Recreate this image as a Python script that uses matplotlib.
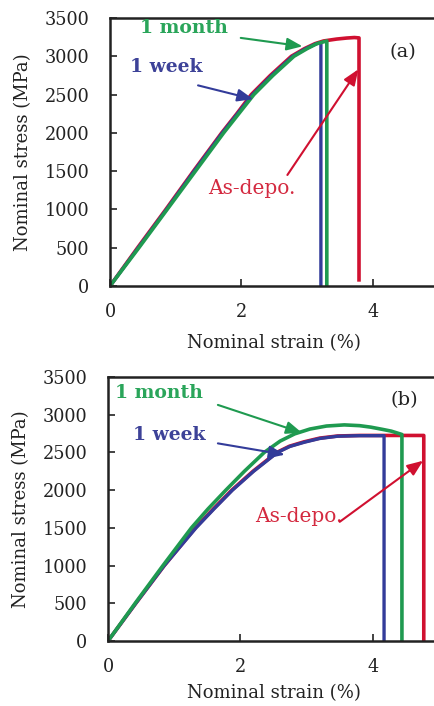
import matplotlib
matplotlib.use("Agg")
import matplotlib.pyplot as plt

# ---- data ----
# Panel (a)
a_asdepo_strain = [0, 0.42, 0.85, 1.27, 1.70, 1.93, 2.15, 2.44, 2.76, 2.96, 3.12, 3.25, 3.45, 3.60, 3.72, 3.79, 3.79]
a_asdepo_stress = [0, 500, 1000, 1500, 2000, 2250, 2500, 2750, 3000, 3100, 3165, 3200, 3225, 3238, 3245, 3240, 80]
a_week_strain = [0, 0.43, 0.86, 1.28, 1.71, 1.94, 2.17, 2.46, 2.78, 2.98, 3.13, 3.21, 3.21]
a_week_stress = [0, 500, 1000, 1500, 2000, 2250, 2500, 2750, 3000, 3100, 3160, 3180, 0]
a_month_strain = [0, 0.44, 0.87, 1.30, 1.73, 1.96, 2.19, 2.48, 2.80, 3.00, 3.15, 3.30, 3.30]
a_month_stress = [0, 500, 1000, 1500, 2000, 2250, 2500, 2750, 3000, 3100, 3165, 3200, 0]

# Panel (b)
b_asdepo_strain = [0, 0.42, 0.85, 1.32, 1.59, 1.87, 2.19, 2.55, 2.74, 2.96, 3.20, 3.47, 3.80, 4.30, 4.77, 4.77]
b_asdepo_stress = [0, 500, 1000, 1500, 1750, 2000, 2250, 2500, 2582, 2640, 2690, 2718, 2725, 2725, 2725, 0]
b_week_strain = [0, 0.42, 0.85, 1.33, 1.60, 1.88, 2.20, 2.56, 2.75, 2.97, 3.20, 3.47, 3.80, 4.17, 4.17]
b_week_stress = [0, 500, 1000, 1500, 1750, 2000, 2250, 2500, 2580, 2636, 2685, 2715, 2722, 2722, 0]
b_month_strain = [0, 0.41, 0.83, 1.26, 1.51, 1.78, 2.06, 2.36, 2.60, 2.82, 3.05, 3.30, 3.57, 3.80, 3.97, 4.15, 4.28, 4.44, 4.44]
b_month_stress = [0, 500, 1000, 1500, 1750, 2000, 2250, 2500, 2650, 2746, 2810, 2850, 2865, 2855, 2835, 2805, 2782, 2738, 0]

yticks = [0, 500, 1000, 1500, 2000, 2500, 3000, 3500]
xticks = [0, 2, 4]
xlabel = "Nominal strain (%)"
ylabel = "Nominal stress (MPa)"

GREEN = "#1f9a50"
BLUE = "#333c9a"
RED = "#d01030"
GREEN_T = "#2aa55a"
BLUE_T = "#3d4298"
RED_T = "#d42a40"
INK = "#222222"

plt.rcParams['font.family'] = ['DejaVu Serif']

W, H = 434, 706
fig = plt.figure(figsize=(W / 100, H / 100), dpi=100)


def make_axes(left_px, top_px, bottom_px, px_per_unit):
    right_px = left_px + 5 * px_per_unit
    return fig.add_axes([left_px / W, (H - bottom_px) / H,
                         (right_px - left_px) / W, (bottom_px - top_px) / H])


def style(ax, xpad):
    ax.set_xlim(0, 5)
    ax.set_ylim(0, 3500)
    ax.set_xticks(xticks)
    ax.set_yticks(yticks)
    ax.tick_params(direction='in', length=5, width=1.2, labelsize=12.7,
                   colors=INK)
    ax.tick_params(axis='y', pad=15)
    ax.tick_params(axis='x', pad=12)
    for s in ax.spines.values():
        s.set_linewidth(1.8)
        s.set_color(INK)
    ax.set_xlabel(xlabel, fontsize=13, color=INK, labelpad=xpad)
    ax.set_ylabel(ylabel, fontsize=13, color=INK, labelpad=9)


def arrow(ax, start, end, color):
    ax.annotate("", xy=end, xytext=start, xycoords='data', textcoords='data',
                arrowprops=dict(arrowstyle='-|>,head_length=0.95,head_width=0.38',
                                color=color, lw=1.5, shrinkA=0, shrinkB=0))


# ---- panel (a) ----
ax1 = make_axes(110, 18, 286, 65.7)
style(ax1, 10)
ax1.plot(a_asdepo_strain, a_asdepo_stress, color=RED, lw=2.6)
ax1.plot(a_week_strain, a_week_stress, color=BLUE, lw=2.4)
ax1.plot(a_month_strain, a_month_stress, color=GREEN, lw=2.6)
ax1.text(0.46, 3370, "1 month", color=GREEN_T, fontsize=13.5, fontweight='bold', va='center')
ax1.text(0.30, 2860, "1 week", color=BLUE_T, fontsize=13.5, fontweight='bold', va='center')
ax1.text(1.49, 1267, "As-depo.", color=RED_T, fontsize=14.5, va='center')
ax1.text(4.26, 3060, "(a)", color=INK, fontsize=14, va='center')
arrow(ax1, (1.99, 3240), (2.93, 3130), GREEN)
arrow(ax1, (1.34, 2620), (2.18, 2440), BLUE)
arrow(ax1, (2.70, 1450), (3.78, 2830), RED)

# ---- panel (b) ----
ax2 = make_axes(108, 377, 641, 66.2)
style(ax2, 6)
ax2.plot(b_asdepo_strain, b_asdepo_stress, color=RED, lw=2.6)
ax2.plot(b_week_strain, b_week_stress, color=BLUE, lw=2.4)
ax2.plot(b_month_strain, b_month_stress, color=GREEN, lw=2.6)
ax2.text(0.10, 3288, "1 month", color=GREEN_T, fontsize=13.5, fontweight='bold', va='center')
ax2.text(0.38, 2731, "1 week", color=BLUE_T, fontsize=13.5, fontweight='bold', va='center')
ax2.text(2.22, 1644, "As-depo.", color=RED_T, fontsize=14.5, va='center')
ax2.text(4.26, 3195, "(b)", color=INK, fontsize=14, va='center')
arrow(ax2, (1.66, 3130), (2.93, 2760), GREEN)
arrow(ax2, (1.66, 2620), (2.67, 2470), BLUE)
arrow(ax2, (3.50, 1580), (4.76, 2390), RED)

fig.savefig("out.png", dpi=100)
